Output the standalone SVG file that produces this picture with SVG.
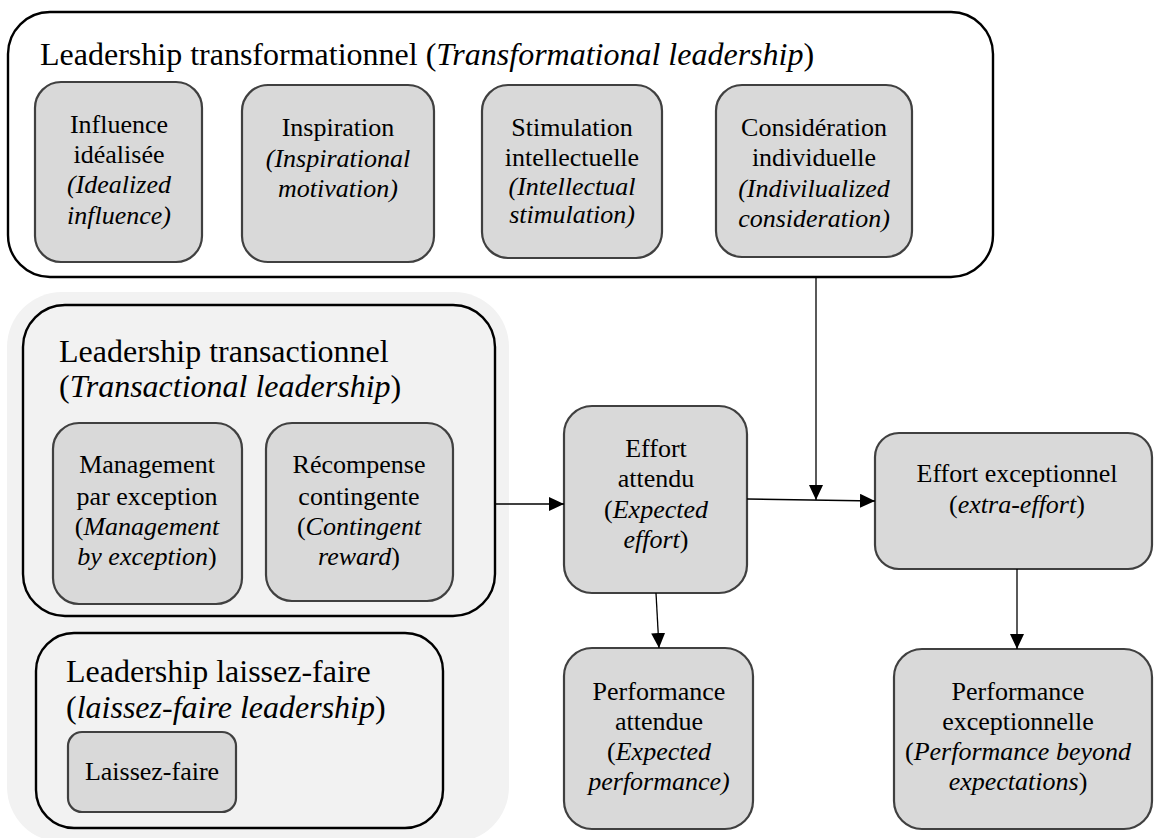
<svg xmlns="http://www.w3.org/2000/svg" width="1154" height="838" viewBox="0 0 1154 838">
<style>
text{font-family:"Liberation Serif","Times New Roman",serif;fill:#000}
.t{font-size:32px}
.b{font-size:26px;text-anchor:middle}
.i{font-style:italic}
.box{fill:#d9d9d9;stroke:#404040;stroke-width:2.2}
.cont{stroke:#000;stroke-width:2.4}
.con{fill:none;stroke:#000;stroke-width:1.3}
</style>
<defs>
<marker id="ah" markerUnits="userSpaceOnUse" markerWidth="16" markerHeight="14" refX="15" refY="7" orient="auto">
<path d="M0,0 L15,7 L0,14 Z" fill="#000"/>
</marker>
</defs>
<rect x="0" y="0" width="1154" height="838" fill="#fff"/>
<g id="panel"><rect x="7" y="292" width="502" height="550" rx="55" fill="#f2f2f2"/></g>

<g id="transformational">
<rect class="cont" x="8" y="12" width="985" height="265" rx="42" fill="#fff"/>
<text class="t" x="40" y="65">Leadership transformationnel (<tspan class="i">Transformational leadership</tspan>)</text>
</g>
<g id="influence">
<rect class="box" x="35" y="82" width="167" height="180" rx="26"/>
<text class="b" x="119" y="133">Influence</text>
<text class="b" x="119" y="163">idéalisée</text>
<text class="b i" x="119" y="193">(Idealized</text>
<text class="b i" x="119" y="224">influence)</text>
</g>
<g id="inspiration">
<rect class="box" x="242" y="85" width="192" height="177" rx="26"/>
<text class="b" x="338" y="136">Inspiration</text>
<text class="b i" x="338" y="167">(Inspirational</text>
<text class="b i" x="338" y="197">motivation)</text>
</g>
<g id="stimulation">
<rect class="box" x="482" y="85" width="180" height="173" rx="26"/>
<text class="b" x="572" y="136">Stimulation</text>
<text class="b" x="572" y="166">intellectuelle</text>
<text class="b i" x="572" y="195">(Intellectual</text>
<text class="b i" x="572" y="223">stimulation)</text>
</g>
<g id="consideration">
<rect class="box" x="716" y="85" width="196" height="172" rx="26"/>
<text class="b" x="814" y="136">Considération</text>
<text class="b" x="814" y="166">individuelle</text>
<text class="b i" x="814" y="197">(Indivilualized</text>
<text class="b i" x="814" y="227">consideration)</text>
</g>

<g id="transactional">
<rect class="cont" x="23" y="305" width="472" height="311" rx="42" fill="#f2f2f2"/>
<text class="t" x="59" y="362">Leadership transactionnel</text>
<text class="t" x="59" y="397">(<tspan class="i">Transactional leadership</tspan>)</text>
</g>
<g id="management">
<rect class="box" x="53" y="423" width="189" height="181" rx="26"/>
<text class="b" x="147" y="473">Management</text>
<text class="b" x="147" y="505">par exception</text>
<text class="b" x="147" y="535">(<tspan class="i">Management</tspan></text>
<text class="b" x="147" y="565"><tspan class="i">by exception</tspan>)</text>
</g>
<g id="recompense">
<rect class="box" x="266" y="423" width="187" height="178" rx="26"/>
<text class="b" x="359" y="473">Récompense</text>
<text class="b" x="359" y="505">contingente</text>
<text class="b" x="359" y="535">(<tspan class="i">Contingent</tspan></text>
<text class="b" x="359" y="565"><tspan class="i">reward</tspan>)</text>
</g>

<g id="laissezfaire">
<rect class="cont" x="36" y="633" width="407" height="195" rx="38" fill="#f2f2f2"/>
<text class="t" x="66" y="682">Leadership laissez-faire</text>
<text class="t" x="66" y="718">(<tspan class="i">laissez-faire leadership</tspan>)</text>
</g>
<g id="laissez">
<rect class="box" x="68" y="732" width="168" height="80" rx="14"/>
<text class="b" x="152" y="780">Laissez-faire</text>
</g>

<g id="effort-attendu">
<rect class="box" x="564" y="406" width="183" height="187" rx="28"/>
<text class="b" x="656" y="457">Effort</text>
<text class="b" x="656" y="487">attendu</text>
<text class="b" x="656" y="518">(<tspan class="i">Expected</tspan></text>
<text class="b" x="656" y="548"><tspan class="i">effort</tspan>)</text>
</g>
<g id="effort-exceptionnel">
<rect class="box" x="875" y="433" width="277" height="136" rx="24"/>
<text class="b" x="1017" y="482">Effort exceptionnel</text>
<text class="b" x="1017" y="513">(<tspan class="i">extra-effort</tspan>)</text>
</g>
<g id="performance-attendue">
<rect class="box" x="564" y="648" width="189" height="181" rx="28"/>
<text class="b" x="659" y="700">Performance</text>
<text class="b" x="659" y="730">attendue</text>
<text class="b" x="659" y="760">(<tspan class="i">Expected</tspan></text>
<text class="b i" x="659" y="790">performance)</text>
</g>
<g id="performance-exceptionnelle">
<rect class="box" x="894" y="649" width="258" height="180" rx="28"/>
<text class="b" x="1018" y="700">Performance</text>
<text class="b" x="1018" y="730">exceptionnelle</text>
<text class="b" x="1018" y="760">(<tspan class="i">Performance beyond</tspan></text>
<text class="b" x="1018" y="790"><tspan class="i">expectations</tspan>)</text>
</g>

<g id="connectors">
<line class="con" x1="495" y1="504" x2="564" y2="504" marker-end="url(#ah)"/>
<line class="con" x1="747" y1="499" x2="875" y2="501" marker-end="url(#ah)"/>
<line class="con" x1="816" y1="277" x2="816" y2="500" marker-end="url(#ah)"/>
<line class="con" x1="656" y1="593" x2="659" y2="648" marker-end="url(#ah)"/>
<line class="con" x1="1017" y1="569" x2="1017" y2="649" marker-end="url(#ah)"/>
</g>
</svg>
